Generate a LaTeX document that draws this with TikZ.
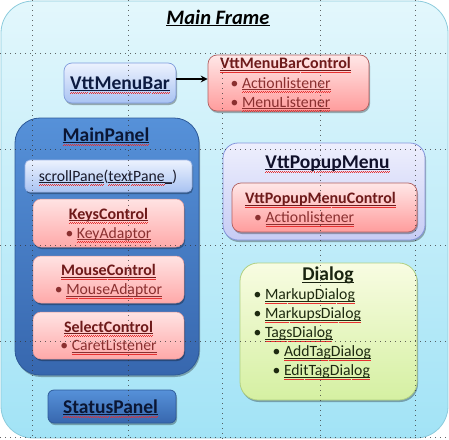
\documentclass[tikz,border=0pt]{standalone}
\usepackage{fontspec}
\setmainfont{Carlito}
\usetikzlibrary{shadows,arrows.meta}
\definecolor{wavered}{HTML}{E83030}
\definecolor{pinkhead}{HTML}{6E1A1A}
\definecolor{pinkitem}{HTML}{8A3030}
\definecolor{frmdraw}{HTML}{8CCBDC}
\definecolor{frmtop}{HTML}{E3F7FC}
\definecolor{frmbot}{HTML}{A2E3F6}
\definecolor{bldraw}{HTML}{7F9CDC}
\definecolor{bltop}{HTML}{ECF2FE}
\definecolor{blbot}{HTML}{A9C3F2}
\definecolor{spdraw}{HTML}{9DB5E6}
\definecolor{pkdraw}{HTML}{B06060}
\definecolor{pktop}{HTML}{FFE7E7}
\definecolor{pkbot}{HTML}{FF9C9C}
\definecolor{pidraw}{HTML}{E39A9A}
\definecolor{pitop}{HTML}{FFE3E3}
\definecolor{pibot}{HTML}{FFA9A9}
\definecolor{dkdraw}{HTML}{2E5A99}
\definecolor{dktop}{HTML}{5691D9}
\definecolor{dkbot}{HTML}{3767AE}
\definecolor{lvdraw}{HTML}{8595DC}
\definecolor{lvtop}{HTML}{EEEFFD}
\definecolor{lvbot}{HTML}{C6CCF4}
\definecolor{grdraw}{HTML}{B0D082}
\definecolor{grtop}{HTML}{F8FCE2}
\definecolor{grbot}{HTML}{D5F0A2}
\definecolor{navytext}{HTML}{0C1A40}
\definecolor{darktext}{HTML}{0B1633}
\definecolor{sptext}{HTML}{1A1A2A}
\definecolor{lvtext}{HTML}{10102A}
\definecolor{grhead}{HTML}{1A2410}
\definecolor{grtext}{HTML}{1E2A10}
\newcommand\wu[1]{\setbox0=\hbox{#1}\leavevmode\rlap{\rule[-2.1pt]{\wd0}{0.7pt}}\rlap{\hbox to\wd0{\color{wavered}\xleaders\hbox{\rule[-4.3pt]{1pt}{0.5pt}\rule[-3.7pt]{1pt}{0.5pt}}\hfill}}\box0}
\newcommand\ulonly[2][0.8pt]{\setbox0=\hbox{#2}\leavevmode\rlap{\rule[-2.4pt]{\wd0}{#1}}\box0}
\newcommand\bul{\llap{•\hspace{3.5pt}}}
\tikzset{
  sh/.style={drop shadow={shadow xshift=1pt,shadow yshift=-2pt,opacity=0.3,fill=black}},
  frm/.style={rounded corners=32pt, draw=frmdraw, line width=0.8pt, top color=frmtop, bottom color=frmbot},
  bluebox/.style={sh, rounded corners=8pt, draw=bldraw, line width=0.7pt, top color=bltop, bottom color=blbot},
  pinkbox/.style={sh, rounded corners=9pt, draw=pkdraw, line width=0.7pt, top color=pktop, bottom color=pkbot},
  pinkin/.style={sh, rounded corners=8pt, draw=pidraw, line width=0.5pt, top color=pitop, bottom color=pibot},
  darkbox/.style={sh, draw=dkdraw, line width=0.8pt, top color=dktop, bottom color=dkbot},
  lavbox/.style={sh, rounded corners=15pt, draw=lvdraw, line width=0.8pt, top color=lvtop, bottom color=lvbot},
  greenbox/.style={sh, rounded corners=18pt, draw=grdraw, line width=0.8pt, top color=grtop, bottom color=grbot},
  txt/.style={inner sep=0pt, outer sep=0pt},
  big/.style={txt, font=\fontsize{19.5}{23}\selectfont\bfseries},
  head/.style={txt, font=\fontsize{16}{19}\selectfont\bfseries},
  body/.style={txt, font=\fontsize{15.7}{19}\selectfont},
  gridln/.style={black!80, opacity=0.75, line width=0.7pt, dash pattern=on 0.7pt off 4.3pt},
}
\begin{document}
\begin{tikzpicture}[x=1pt,y=-1pt]
\useasboundingbox (0,0) rectangle (449,439);
% main frame
\node[frm, minimum width=447pt, minimum height=437pt] (frame) at (224.5,219.5) {};
\node[txt, anchor=base, font=\fontsize{20.5}{24}\selectfont\bfseries\itshape] (title) at (218,24) {\ulonly[1.3pt]{Main Frame}};
% menu bar
\node[bluebox, minimum width=112pt, minimum height=40pt] (mb) at (120,83) {};
\node[big, anchor=base, text=navytext] (mbt) at (120,89) {\wu{VttMenuBar}};
\node[pinkbox, minimum width=161pt, minimum height=56pt] (mbc) at (288.5,83) {};
\node[head, anchor=base west, text=pinkhead] (mbct) at (220,68.5) {\wu{VttMenuBarControl}};
\node[body, anchor=base west, text=pinkitem] (mbc1) at (242,88) {\bul\wu{Actionlistener}};
\node[body, anchor=base west, text=pinkitem] (mbc2) at (242,107) {\bul\wu{MenuListener}};
\draw[line width=1.2pt, -{Stealth[length=7pt,width=7pt]}] ([yshift=4pt]mb.east) -- ([yshift=4pt]mbc.west);
% main panel
\node[darkbox, rounded corners=25pt, minimum width=184pt, minimum height=257pt] (mp) at (107,246.5) {};
\node[big, anchor=base, text=darktext] (mpt) at (106,141) {\wu{MainPanel}};
\node[bluebox, rounded corners=5pt, draw=spdraw, minimum width=167pt, minimum height=32pt] (sp) at (108.5,176) {};
\node[body, anchor=base, text=sptext] (spt) at (108,181) {\wu{scrollPane}(\wu{textPane}\ulonly[0.7pt]{\_})};
\node[pinkin, minimum width=151pt, minimum height=48pt] (kc) at (108.5,223) {};
\node[head, anchor=base, text=pinkhead] (kct) at (108.5,219) {\wu{KeysControl}};
\node[body, anchor=base, text=pinkitem] (kc1) at (108.5,238) {•\hspace{3.5pt}\wu{KeyAdaptor}};
\node[pinkin, minimum width=151pt, minimum height=47pt] (mc) at (108.5,279.5) {};
\node[head, anchor=base, text=pinkhead] (mct) at (108.5,275.5) {\wu{MouseControl}};
\node[body, anchor=base, text=pinkitem] (mc1) at (108.5,294.5) {•\hspace{3.5pt}\wu{MouseAdaptor}};
\node[pinkin, minimum width=151pt, minimum height=47pt] (sc) at (108.5,335.5) {};
\node[head, anchor=base, text=pinkhead] (sct) at (108.5,332) {\wu{SelectControl}};
\node[body, anchor=base, text=pinkitem] (sc1) at (108.5,350.5) {•\hspace{3.5pt}\wu{CaretListener}};
% status panel
\node[darkbox, rounded corners=6pt, minimum width=128pt, minimum height=33pt] (st) at (112,406.5) {};
\node[big, anchor=base, text=darktext] (stt) at (110.5,413) {\wu{StatusPanel}};
% popup menu
\node[lavbox, minimum width=202pt, minimum height=97pt] (pm) at (324,191.5) {};
\node[big, anchor=base, text=lvtext] (pmt) at (327.5,168) {\wu{VttPopupMenu}};
\node[pinkbox, rounded corners=9pt, minimum width=185pt, minimum height=49pt] (pmc) at (324.5,207.5) {};
\node[head, anchor=base west, text=pinkhead] (pmct) at (245,203.5) {\wu{VttPopupMenuControl}};
\node[body, anchor=base west, text=pinkitem] (pmc1) at (265.5,222.5) {\bul\wu{Actionlistener}};
% dialog
\node[greenbox, minimum width=177pt, minimum height=137pt] (dl) at (328.5,331.5) {};
\node[big, anchor=base, text=grhead] (dlt) at (328,280.5) {\ulonly[1pt]{Dialog}};
\node[body, anchor=base west, text=grtext] (d1) at (265,299.5) {\bul\wu{MarkupDialog}};
\node[body, anchor=base west, text=grtext] (d2) at (265,318.5) {\bul\wu{MarkupsDialog}};
\node[body, anchor=base west, text=grtext] (d3) at (265,337.5) {\bul\wu{TagsDialog}};
\node[body, anchor=base west, text=grtext] (d4) at (284,356.5) {\bul\wu{AddTagDialog}};
\node[body, anchor=base west, text=grtext] (d5) at (284,375.5) {\bul\wu{EditTagDialog}};
% guide grid
\foreach \gx in {32,128,320,415} \draw[gridln] (\gx,0) -- (\gx,439);
\draw[gridln] (222,53) -- (222,439);
\foreach \gy in {53,149,245,341,437} \draw[gridln] (0,\gy) -- (449,\gy);
\end{tikzpicture}
\end{document}
